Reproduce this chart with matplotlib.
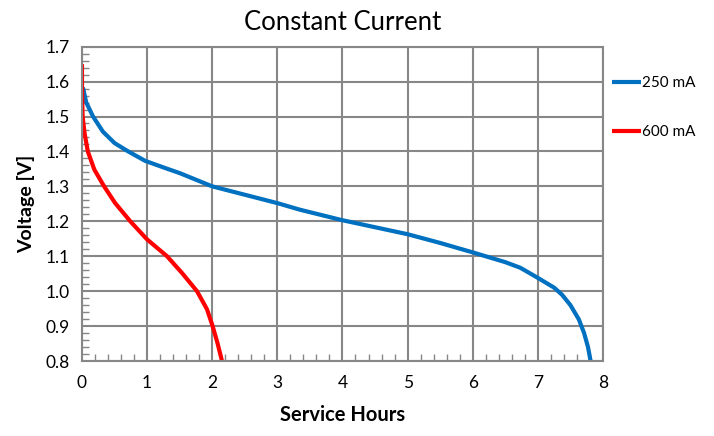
import matplotlib
matplotlib.use("Agg")
import matplotlib.pyplot as plt
from matplotlib.ticker import MultipleLocator, FormatStrFormatter

plt.rcParams['font.family'] = ['Lato', 'DejaVu Sans']

# 250 mA discharge curve (hours, volts)
blue_x = [0.015, 0.066, 0.17, 0.32, 0.5, 0.71, 0.97, 1.33, 1.5, 2.0, 2.5, 3.0, 3.35,
          4.0, 4.5, 5.0, 5.5, 6.0, 6.5, 6.73, 7.0, 7.25, 7.37, 7.5, 7.63, 7.71,
          7.77, 7.81]
blue_v = [1.583, 1.54, 1.50, 1.457, 1.424, 1.40, 1.373, 1.349, 1.338, 1.30, 1.276,
          1.252, 1.233, 1.203, 1.183, 1.163, 1.138, 1.111, 1.083, 1.067, 1.038,
          1.01, 0.99, 0.96, 0.919, 0.88, 0.84, 0.80]

# 600 mA discharge curve (hours, volts)
red_x = [0.0, 0.0, 0.003, 0.01, 0.04, 0.09, 0.19, 0.34, 0.51, 0.742, 1.0, 1.306,
         1.536, 1.766, 1.92, 2.006, 2.083, 2.15]
red_v = [1.65, 1.6, 1.55, 1.5, 1.452, 1.4, 1.348, 1.30, 1.252, 1.20, 1.148, 1.10,
         1.052, 1.00, 0.948, 0.90, 0.85, 0.80]

series_labels = ['250 mA', '600 mA']
title = 'Constant Current'
xlabel = 'Service Hours'
ylabel = 'Voltage [V]'

fig = plt.figure(figsize=(7.14, 4.36), dpi=100)
ax = fig.add_axes([0.1148, 0.172, 0.7297, 0.721])

gray = '#878787'
ax.plot(blue_x, blue_v, color='#0070C0', lw=3, label=series_labels[0],
        solid_capstyle='butt', solid_joinstyle='round')
ax.plot(red_x, red_v, color='#FF0000', lw=3, label=series_labels[1],
        solid_capstyle='butt', solid_joinstyle='round')

ax.set_xlim(0, 8)
ax.set_ylim(0.8, 1.7)
ax.xaxis.set_major_locator(MultipleLocator(1))
ax.xaxis.set_minor_locator(MultipleLocator(0.2))
ax.yaxis.set_major_locator(MultipleLocator(0.1))
ax.yaxis.set_minor_locator(MultipleLocator(0.02))
ax.yaxis.set_major_formatter(FormatStrFormatter('%.1f'))
ax.grid(True, which='major', color=gray, lw=1.5)
ax.set_axisbelow(True)
for s in ax.spines.values():
    s.set_color(gray)
    s.set_linewidth(1.5)
ax.tick_params(which='major', length=0, labelsize=12.5, colors='black')
ax.tick_params(axis='x', which='major', pad=10)
ax.tick_params(axis='y', which='major', pad=9)
ax.tick_params(which='minor', direction='in', length=5, color=gray, width=1)

ax.set_title(title, fontsize=18.5, pad=12)
ax.set_xlabel(xlabel, fontsize=14.5, fontweight='bold', labelpad=10)
ax.set_ylabel(ylabel, fontsize=14, fontweight='bold', labelpad=7)

ax.legend(loc='upper left', bbox_to_anchor=(1.005, 0.925), frameon=False,
          fontsize=11, handlelength=1.9, handletextpad=0.1, labelspacing=2.3,
          borderaxespad=0)

fig.savefig('out.png', dpi=100)
